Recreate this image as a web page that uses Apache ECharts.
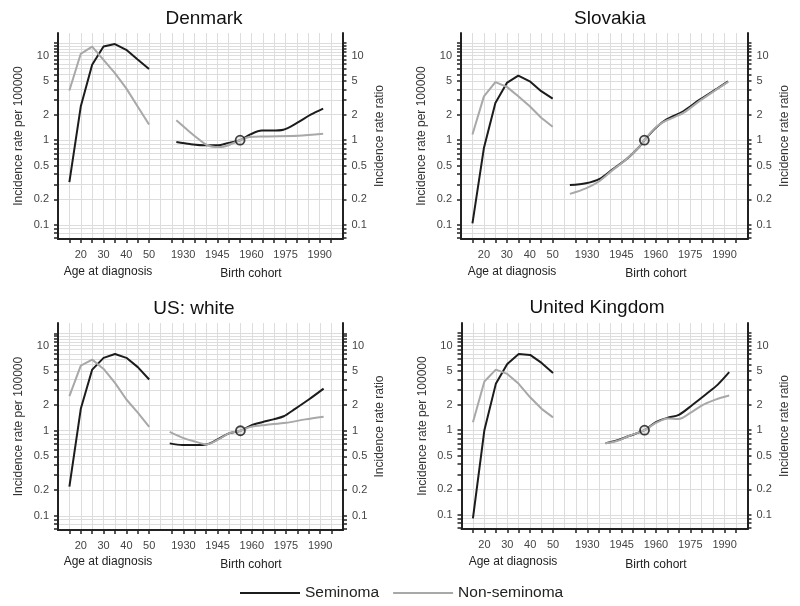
<!DOCTYPE html>
<html><head><meta charset="utf-8">
<script src="https://cdn.jsdelivr.net/npm/echarts@6/dist/echarts.min.js"></script>
<style>html,body{margin:0;padding:0;background:#fff}#c{width:800px;height:606px}</style>
</head><body><div id="c"></div>
<script>
// ---- data ----
const AGES = [15, 20, 25, 30, 35, 40, 45, 50];
const AGE_TICKS = [15, 20, 25, 30, 35, 40, 45, 50];
const AGE_LABELS = [20, 30, 40, 50];
const COHORT_TICKS = [1925, 1930, 1935, 1940, 1945, 1950, 1955, 1960, 1965, 1970, 1975, 1980, 1985, 1990, 1995];
const COHORT_LABELS = [1930, 1945, 1960, 1975, 1990];
const Y_LABELS = [0.1, 0.2, 0.5, 1, 2, 5, 10];
const Y_TICKS = [0.07, 0.08, 0.09, 0.1, 0.2, 0.3, 0.4, 0.5, 0.6, 0.7, 0.8, 0.9, 1, 2, 3, 4, 5, 6, 7, 8, 9, 10, 11, 12, 13, 14];
const REF_COHORT = 1955;
const REF_RR = 1;

const dkSemAge = [0.32, 2.5, 7.8, 12.8, 13.7, 11.7, 9.0, 6.96];
const dkNonAge = [3.87, 10.5, 12.8, 8.9, 6.2, 4.1, 2.5, 1.53];
const dkSemCohYears = [1927, 1933, 1940, 1945, 1950, 1955, 1959.5, 1964.5, 1969, 1974, 1980, 1986, 1991.5];
const dkSemCoh = [0.95, 0.90, 0.87, 0.87, 0.93, 1.0, 1.17, 1.30, 1.30, 1.33, 1.60, 2.0, 2.36];
const dkNonCohYears = [1927, 1932.5, 1937, 1940, 1944, 1948.5, 1955, 1959, 1966, 1980.5, 1991.5];
const dkNonCoh = [1.72, 1.28, 1.02, 0.89, 0.83, 0.85, 1.0, 1.09, 1.11, 1.13, 1.19];

const skSemAge = [0.104, 0.81, 2.76, 4.75, 5.8, 4.97, 3.8, 3.1];
const skNonAge = [1.17, 3.3, 4.85, 4.27, 3.3, 2.52, 1.84, 1.44];
const skSemCohYears = [1922.5, 1929.5, 1935.5, 1941, 1947, 1953, 1955, 1960, 1964.5, 1972, 1979, 1986, 1991.5];
const skSemCoh = [0.295, 0.31, 0.35, 0.45, 0.59, 0.85, 1.0, 1.4, 1.75, 2.2, 3.0, 3.96, 4.97];
const skNonCohYears = [1922.5, 1929.5, 1935.5, 1941, 1947, 1953, 1955, 1960, 1964.5, 1972, 1979, 1986, 1991.5];
const skNonCoh = [0.232, 0.27, 0.33, 0.44, 0.59, 0.85, 1.0, 1.42, 1.7, 2.1, 2.9, 3.9, 4.9];

const usSemAge = [0.22, 1.81, 5.24, 7.2, 7.98, 7.2, 5.6, 4.0];
const usNonAge = [2.55, 5.83, 6.86, 5.33, 3.65, 2.33, 1.63, 1.11];
const usSemCohYears = [1924, 1929.5, 1935.5, 1940, 1945, 1950, 1955, 1959.5, 1964.5, 1969.5, 1974, 1979, 1985, 1991.5];
const usSemCoh = [0.71, 0.68, 0.68, 0.69, 0.79, 0.93, 1.0, 1.15, 1.26, 1.36, 1.48, 1.81, 2.33, 3.13];
const usNonCohYears = [1924, 1929.5, 1935.5, 1940, 1945, 1950, 1955, 1959.5, 1966, 1975, 1983.5, 1991.5];
const usNonCoh = [0.97, 0.83, 0.74, 0.69, 0.78, 0.93, 1.0, 1.11, 1.17, 1.24, 1.36, 1.46];

const ukSemAge = [0.091, 1.0, 3.53, 6.08, 7.96, 7.76, 6.24, 4.76];
const ukNonAge = [1.24, 3.76, 5.2, 4.63, 3.53, 2.45, 1.79, 1.42];
const ukSemCohYears = [1938, 1942.5, 1948.5, 1955, 1960, 1965, 1970, 1976, 1982, 1987, 1992];
const ukSemCoh = [0.70, 0.75, 0.86, 1.0, 1.25, 1.40, 1.52, 2.0, 2.68, 3.46, 4.85];
const ukNonCohYears = [1938, 1942.5, 1948.5, 1955, 1960, 1965, 1970, 1975, 1980.5, 1986, 1992];
const ukNonCoh = [0.70, 0.74, 0.86, 1.0, 1.22, 1.38, 1.36, 1.6, 1.99, 2.3, 2.57];

// ---- layout ----
const FONT = '"Liberation Sans", Arial, sans-serif';
const BLACK = '#1c1c1c', GREY = '#a8a8a8', GRIDC = '#dddddd', AXC = '#222';

const panels = [
  {title: 'Denmark', semAge: dkSemAge, nonAge: dkNonAge, semY: dkSemCohYears, sem: dkSemCoh, nonY: dkNonCohYears, non: dkNonCoh,
   grid: {left: 58, top: 33, width: 284.5, height: 206}, tx: 199, ty: 4, an: [108, 272], cn: [251, 274]},
  {title: 'Slovakia', semAge: skSemAge, nonAge: skNonAge, semY: skSemCohYears, sem: skSemCoh, nonY: skNonCohYears, non: skNonCoh,
   grid: {left: 461, top: 33, width: 286.5, height: 206}, tx: 605, ty: 4, an: [512, 272], cn: [656, 274]},
  {title: 'US: white', semAge: usSemAge, nonAge: usNonAge, semY: usSemCohYears, sem: usSemCoh, nonY: usNonCohYears, non: usNonCoh,
   grid: {left: 58, top: 323, width: 285, height: 207}, tx: 189, ty: 294, an: [108, 562], cn: [251, 565]},
  {title: 'United Kingdom', semAge: ukSemAge, nonAge: ukNonAge, semY: ukSemCohYears, sem: ukSemCoh, nonY: ukNonCohYears, non: ukNonCoh,
   grid: {left: 461.5, top: 323, width: 286, height: 206}, tx: 592, ty: 293, an: [513, 562], cn: [656, 565]}
];

const grids = [], xAxes = [], yAxes = [], series = [], titles = [], graphics = [];
const labelStyle = {color: '#444', fontSize: 11, fontFamily: FONT};
const fmt = v => String(+(+v).toPrecision(3));
const fmtYear = v => String(Math.round(v));

panels.forEach((p, i) => {
  grids.push(Object.assign({containLabel: false}, p.grid));
  titles.push({text: p.title, left: p.tx, top: p.ty, textAlign: 'center',
    textStyle: {fontSize: 19, fontWeight: 'normal', color: '#111', fontFamily: FONT}});
  // age axis
  xAxes.push({gridIndex: i, type: 'value', position: 'bottom', min: 10, max: 135,
    axisLine: {show: true, onZero: false, lineStyle: {color: AXC, width: 2}},
    axisTick: {show: true, customValues: AGE_TICKS, length: 4, lineStyle: {color: AXC, width: 1.5}},
    axisLabel: Object.assign({customValues: AGE_LABELS, formatter: fmtYear, margin: 10}, labelStyle),
    splitLine: {show: false}});
  // cohort axis
  xAxes.push({gridIndex: i, type: 'value', position: 'bottom', min: 1875, max: 2000,
    axisLine: {show: false},
    axisTick: {show: true, customValues: COHORT_TICKS, length: 4, lineStyle: {color: AXC, width: 1.5}},
    axisLabel: Object.assign({customValues: COHORT_LABELS, formatter: fmtYear, margin: 10}, labelStyle),
    splitLine: {show: false}});
  // grid-only axis
  xAxes.push({gridIndex: i, type: 'value', position: 'bottom', min: 10, max: 135, interval: 5,
    axisLine: {show: false}, axisTick: {show: false}, axisLabel: {show: false},
    splitLine: {show: true, lineStyle: {color: GRIDC, width: 1}}});
  const yBase = {gridIndex: i, type: 'log', logBase: 10, min: 0.068, max: 18.5,
    axisLine: {show: true, onZero: false, lineStyle: {color: AXC, width: 2}},
    axisTick: {show: true, customValues: Y_TICKS, length: 4, lineStyle: {color: AXC, width: 1.5}},
    axisLabel: Object.assign({customValues: Y_LABELS, formatter: fmt, margin: 9}, labelStyle),
    nameLocation: 'middle', nameTextStyle: {fontSize: 12, color: '#333', fontFamily: FONT}};
  yAxes.push(Object.assign({}, yBase, {position: 'left', name: 'Incidence rate per 100000', nameGap: 33,
    splitLine: {show: true, lineStyle: {color: GRIDC, width: 1}}}));
  yAxes.push(Object.assign({}, yBase, {position: 'right', name: 'Incidence rate ratio', nameGap: 31,
    splitLine: {show: false}}));

  const line = (name, xi, xs, ys, color, smooth) => ({
    name, type: 'line', xAxisIndex: xi, yAxisIndex: 2 * i, symbol: 'none', showSymbol: false, smooth: smooth,
    data: xs.map((x, k) => [x, ys[k]]), lineStyle: {color, width: 2}, itemStyle: {color}, z: 3
  });
  series.push(line('Seminoma', 3 * i, AGES, p.semAge, BLACK, false));
  series.push(line('Non-seminoma', 3 * i, AGES, p.nonAge, GREY, false));
  series.push(line('Seminoma', 3 * i + 1, p.semY, p.sem, BLACK, 0.3));
  series.push(line('Non-seminoma', 3 * i + 1, p.nonY, p.non, GREY, 0.3));
  series.push({type: 'scatter', xAxisIndex: 3 * i + 1, yAxisIndex: 2 * i, data: [[REF_COHORT, REF_RR]],
    symbol: 'circle', symbolSize: 9, z: 5, silent: true,
    itemStyle: {color: 'rgba(200,200,200,0.5)', borderColor: '#111', borderWidth: 1.8}});

  graphics.push({type: 'text', style: {text: 'Age at diagnosis', x: p.an[0], y: p.an[1], align: 'center', verticalAlign: 'middle',
    font: '12px ' + FONT, fill: '#222'}});
  graphics.push({type: 'text', style: {text: 'Birth cohort', x: p.cn[0], y: p.cn[1], align: 'center', verticalAlign: 'middle',
    font: '12px ' + FONT, fill: '#222'}});
});

const chart = echarts.init(document.getElementById('c'), null, {renderer: 'canvas'});
chart.setOption({
  animation: false,
  backgroundColor: '#fff',
  title: titles,
  grid: grids,
  xAxis: xAxes,
  yAxis: yAxes,
  legend: {data: [{name: 'Seminoma', icon: 'rect'}, {name: 'Non-seminoma', icon: 'rect'}],
    left: 235, top: 580, itemWidth: 60, itemHeight: 2, itemGap: 14,
    textStyle: {fontSize: 15.5, color: '#222', fontFamily: FONT}},
  graphic: graphics,
  series
});
</script></body></html>
